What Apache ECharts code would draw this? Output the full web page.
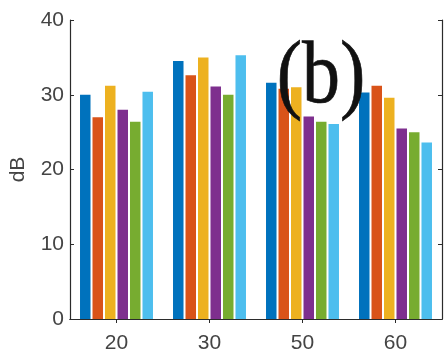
<!DOCTYPE html>
<html>
<head>
<meta charset="utf-8">
<script src="https://cdn.jsdelivr.net/npm/echarts@6/dist/echarts.min.js"></script>
<style>html,body{margin:0;padding:0;background:#fff;}#c{width:445px;height:358px;}</style>
</head>
<body>
<div id="c"></div>
<script>
const categories = ['20', '30', '50', '60'];
const s1 = [30.0, 34.5, 31.6, 30.3];
const s2 = [27.0, 32.6, 30.8, 31.2];
const s3 = [31.2, 35.0, 31.0, 29.6];
const s4 = [28.0, 31.1, 27.1, 25.5];
const s5 = [26.4, 30.0, 26.4, 25.0];
const s6 = [30.4, 35.3, 26.1, 23.6];
const yTicks = [0, 10, 20, 30, 40];
const colors = ['#0072BD', '#D95319', '#EDB120', '#7E2F8E', '#77AC30', '#4DBEEE'];
const seriesData = [s1, s2, s3, s4, s5, s6];

const chart = echarts.init(document.getElementById('c'));
const axisCol = '#2b2b2b';
const labelCol = '#444';
const fontFam = '"Liberation Sans", Arial, Helvetica, sans-serif';
chart.setOption({
  animation: false,
  grid: { left: 68, right: 3, top: 20, bottom: 39, containLabel: false },
  xAxis: [
    {
      type: 'category', data: categories, position: 'bottom',
      axisLine: { lineStyle: { color: axisCol, width: 1.2 } },
      axisTick: { inside: true, alignWithLabel: true, length: 4, lineStyle: { color: axisCol } },
      axisLabel: { color: labelCol, fontSize: 21, fontFamily: fontFam, margin: 14 },
      splitLine: { show: false }
    },
    {
      type: 'category', data: categories, position: 'top',
      axisLine: { show: true, lineStyle: { color: axisCol, width: 1.2 } },
      axisTick: { show: true, inside: true, alignWithLabel: true, length: 4, lineStyle: { color: axisCol } },
      axisLabel: { show: false },
      splitLine: { show: false }
    }
  ],
  yAxis: [
    {
      type: 'value', min: 0, max: 40, interval: 10, position: 'left',
      name: 'dB', nameLocation: 'middle', nameGap: 41,
      nameTextStyle: { color: labelCol, fontSize: 21, fontFamily: fontFam },
      axisLine: { show: true, lineStyle: { color: axisCol, width: 1.2 } },
      axisTick: { show: true, inside: true, length: 4, lineStyle: { color: axisCol } },
      axisLabel: { color: labelCol, fontSize: 21, fontFamily: fontFam, margin: 6,
        formatter: v => yTicks.includes(v) ? String(v) : '' },
      splitLine: { show: false }
    },
    {
      type: 'value', min: 0, max: 40, interval: 10, position: 'right',
      axisLine: { show: true, lineStyle: { color: axisCol, width: 1.2 } },
      axisTick: { show: true, inside: true, length: 4, lineStyle: { color: axisCol } },
      axisLabel: { show: false },
      splitLine: { show: false }
    }
  ],
  series: seriesData.map((d, i) => ({
    type: 'bar', data: d, xAxisIndex: 0, yAxisIndex: 0,
    barWidth: 10.5, barGap: '19%',
    itemStyle: { color: colors[i] }
  })),
  graphic: [{
    type: 'text', x: 321, y: 78, scaleY: 1.18, z: 100,
    style: {
      text: '(b)', x: 0, y: 0, textAlign: 'center', textVerticalAlign: 'middle',
      font: '76px "Liberation Serif", "Times New Roman", serif', fill: '#111',
      stroke: '#111', lineWidth: 0.6
    }
  }]
});
</script>
</body>
</html>
